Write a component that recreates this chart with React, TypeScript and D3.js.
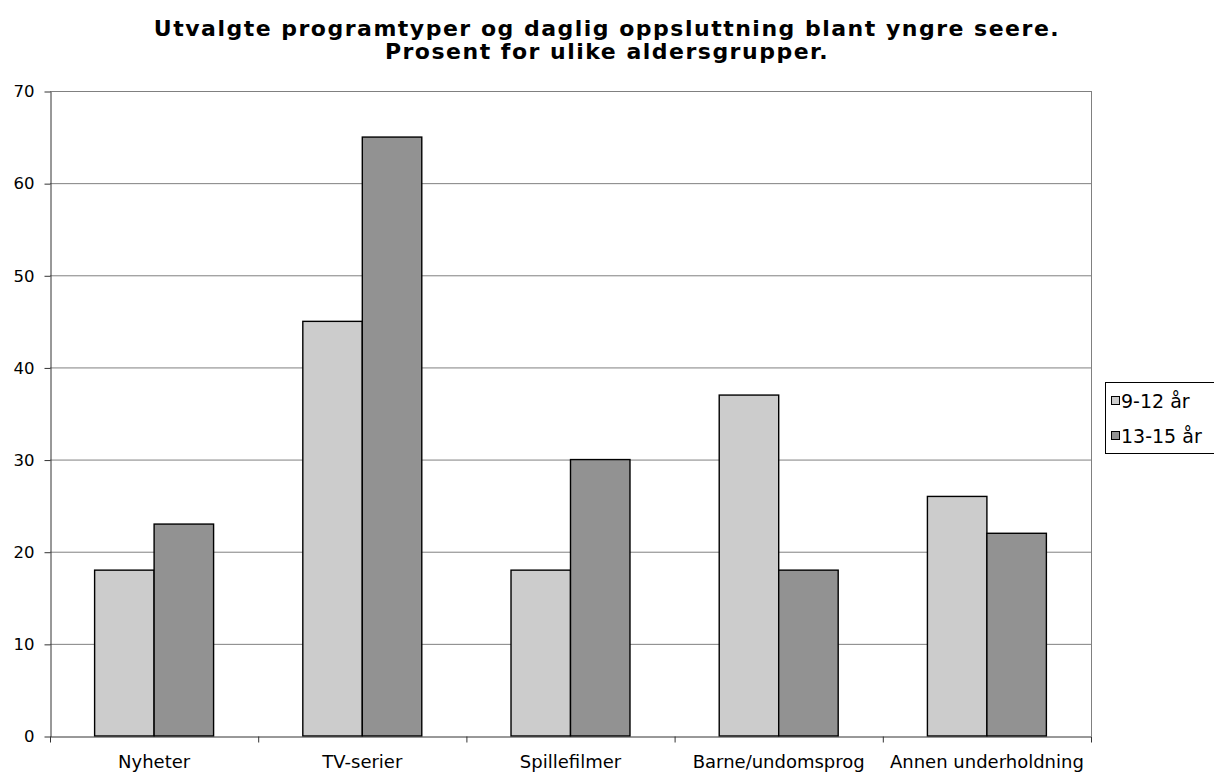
import React, { useEffect, useRef } from "react";
import * as d3 from "d3";

const categories = ["Nyheter", "TV-serier", "Spillefilmer", "Barne/undomsprog", "Annen underholdning"];
const seriesNames = ["9-12 år", "13-15 år"];
const young = [18, 45, 18, 37, 26];
const older = [23, 65, 30, 18, 22];
const yTicks = [0, 10, 20, 30, 40, 50, 60, 70];
const titleLines = [
  "Utvalgte programtyper og daglig oppsluttning blant yngre seere.",
  "Prosent for ulike aldersgrupper.",
];

const colors = ["#cccccc", "#929292"];
const font = "Verdana, 'DejaVu Sans', sans-serif";

const App = () => {
  const svgRef = useRef<SVGSVGElement>(null);

  useEffect(() => {
    const plot = { left: 50, right: 1091, top: 91, bottom: 736 };

    const svg = d3.select(svgRef.current);
    svg.selectAll("*").remove();

    const x0 = d3.scaleBand<string>().domain(categories).range([plot.left, plot.right]).padding(0);
    // two bars per category, 150% gap between groups
    const x1 = d3
      .scaleBand<number>()
      .domain([0, 1])
      .range([0, x0.bandwidth()])
      .paddingInner(0)
      .paddingOuter(0.75);
    const y = d3.scaleLinear().domain([0, 70]).range([plot.bottom, plot.top]);

    // gridlines
    svg
      .append("g")
      .selectAll("line")
      .data(yTicks.filter((d) => d > 0))
      .join("line")
      .attr("x1", plot.left)
      .attr("x2", plot.right)
      .attr("y1", (d) => y(d) + 0.5)
      .attr("y2", (d) => y(d) + 0.5)
      .attr("stroke", "#808080")
      .attr("stroke-width", 1);

    // right border of plot area
    svg
      .append("line")
      .attr("x1", plot.right + 0.5)
      .attr("x2", plot.right + 0.5)
      .attr("y1", plot.top)
      .attr("y2", plot.bottom)
      .attr("stroke", "#808080");

    // bars
    const data = categories.map((c, i) => ({ c, vals: [young[i], older[i]] }));
    svg
      .append("g")
      .selectAll("g")
      .data(data)
      .join("g")
      .attr("transform", (d) => `translate(${x0(d.c)},0)`)
      .selectAll("rect")
      .data((d) => d.vals.map((v, k) => ({ v, k })))
      .join("rect")
      .attr("x", (d) => x1(d.k)!)
      .attr("width", x1.bandwidth())
      .attr("y", (d) => y(d.v))
      .attr("height", (d) => y(0) - y(d.v))
      .attr("fill", (d) => colors[d.k])
      .attr("stroke", "#000")
      .attr("stroke-width", 1.4);

    // y axis
    const yAxis = d3.axisLeft(y).tickValues(yTicks).tickSize(6).tickSizeOuter(0);
    svg
      .append("g")
      .attr("transform", `translate(${plot.left + 0.5},0.5)`)
      .call(yAxis)
      .call((g) => g.select(".domain").attr("stroke", "#333"))
      .call((g) => g.selectAll(".tick line").attr("stroke", "#333"))
      .call((g) =>
        g
          .selectAll(".tick text")
          .attr("font-family", font)
          .attr("font-size", 16.5)
          .attr("fill", "#000")
          .attr("x", -16)
      );

    // x axis
    const xAxis = d3.axisBottom(x0).tickSize(0).tickSizeOuter(0);
    const gx = svg
      .append("g")
      .attr("transform", `translate(0,${plot.bottom + 0.5})`)
      .call(xAxis)
      .call((g) => g.select(".domain").attr("stroke", "#333"))
      .call((g) =>
        g
          .selectAll(".tick text")
          .attr("font-family", font)
          .attr("font-size", 18)
          .attr("fill", "#000")
          .attr("dy", null)
          .attr("y", 31)
      );
    // category separators
    const bounds = d3.range(categories.length + 1).map((i) => plot.left + i * x0.step());
    gx.append("g")
      .selectAll("line")
      .data(bounds)
      .join("line")
      .attr("x1", (d) => d + 0.5)
      .attr("x2", (d) => d + 0.5)
      .attr("y1", 0)
      .attr("y2", 6)
      .attr("stroke", "#333");

    // title
    svg
      .append("g")
      .selectAll("text")
      .data(titleLines)
      .join("text")
      .attr("x", 607)
      .attr("y", (_, i) => 36 + i * 23)
      .attr("text-anchor", "middle")
      .attr("font-family", font)
      .attr("font-weight", "bold")
      .attr("font-size", 22)
      .attr("letter-spacing", 1.5)
      .text((d) => d);

    // legend
    const legend = svg.append("g");
    legend
      .append("rect")
      .attr("x", 1105.5)
      .attr("y", 382.5)
      .attr("width", 120)
      .attr("height", 71)
      .attr("fill", "#fff")
      .attr("stroke", "#000");
    const items = legend
      .selectAll("g")
      .data(seriesNames)
      .join("g")
      .attr("transform", (_, i) => `translate(1111,${401 + i * 35})`);
    items
      .append("rect")
      .attr("x", 0.5)
      .attr("y", -4.5)
      .attr("width", 8)
      .attr("height", 8)
      .attr("fill", (_, i) => colors[i])
      .attr("stroke", "#000");
    items
      .append("text")
      .attr("x", 10)
      .attr("y", 0)
      .attr("dy", "0.35em")
      .attr("font-family", font)
      .attr("font-size", 19)
      .text((d) => d);
  }, []);

  return (
    <svg
      ref={svgRef}
      width={1214}
      height={772}
      style={{ display: "block", position: "absolute", left: 0, top: 0, background: "#fff" }}
    />
  );
};

export default App;
